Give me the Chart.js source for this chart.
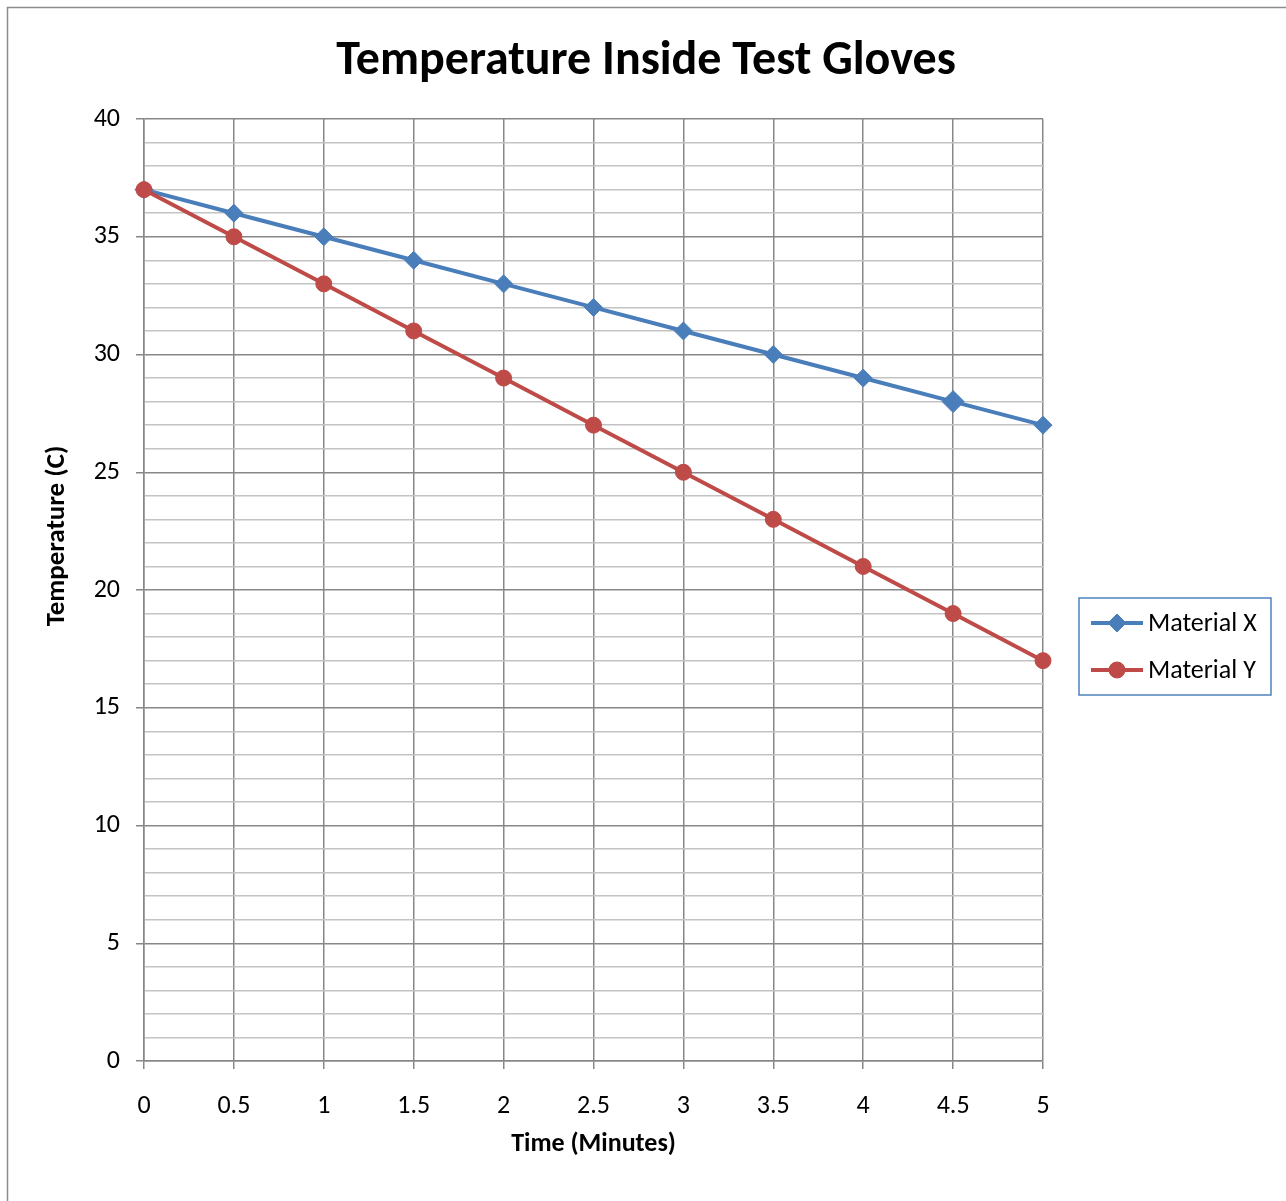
<!DOCTYPE html>
<html>
<head>
<meta charset="utf-8">
<title>Temperature Inside Test Gloves</title>
<script src="https://cdn.jsdelivr.net/npm/chart.js@4/dist/chart.umd.min.js"></script>
<style>
  html, body { margin: 0; padding: 0; background: #fff; }
  #wrap { width: 1286px; height: 1201px; }
</style>
</head>
<body>
<div id="wrap"><canvas id="chart" width="1286" height="1201"></canvas></div>
<script>
// DATA
// =============================================================================
const timeMinutes = [0, 0.5, 1, 1.5, 2, 2.5, 3, 3.5, 4, 4.5, 5];
const materialX = [37, 36, 35, 34, 33, 32, 31, 30, 29, 28, 27];
const materialY = [37, 35, 33, 31, 29, 27, 25, 23, 21, 19, 17];
const seriesNames = ['Material X', 'Material Y'];
const chartTitle = 'Temperature Inside Test Gloves';
const yAxisTitle = 'Temperature (C)';
const xAxisTitle = 'Time (Minutes)';
const yLabelEvery = 5;

// STYLE
// =============================================================================
const FONT = 'Carlito, Lato, "Open Sans", sans-serif';
const BLUE = '#4a7ebb';
const RED = '#be4b48';
const MAJOR_GRID = '#878787';
const MINOR_GRID = '#c3c3c3';

Chart.defaults.font.family = FONT;
Chart.defaults.color = '#000';

const toPoints = (values) => values.map((v, i) => ({ x: timeMinutes[i], y: v }));

/**
 * Grey frame round the whole chart, chart title and y axis title
 */
const frameAndTitles = {
  id: 'frameAndTitles',
  beforeDraw(chart) {
    const ctx = chart.ctx;
    ctx.save();
    ctx.strokeStyle = '#8c8c8c';
    ctx.lineWidth = 1.5;
    ctx.strokeRect(7.5, 7.5, chart.width + 20, chart.height + 20);
    ctx.restore();
  },
  afterDraw(chart) {
    const ctx = chart.ctx;
    ctx.save();
    ctx.fillStyle = '#000';
    ctx.textAlign = 'center';
    ctx.textBaseline = 'middle';
    ctx.font = 'bold 48px ' + FONT;
    ctx.fillText(chartTitle, 646, 62);
    ctx.translate(57, 536);
    ctx.rotate(-Math.PI / 2);
    ctx.font = 'bold 27px ' + FONT;
    ctx.fillText(yAxisTitle, 0, 0);
    ctx.restore();
  }
};

/**
 * Boxed legend on the right, drawn from the datasets
 */
const boxLegend = {
  id: 'boxLegend',
  afterDraw(chart) {
    const ctx = chart.ctx;
    const box = { x: 1079, y: 598, w: 192, h: 97 };
    ctx.save();
    ctx.strokeStyle = '#4f81bd';
    ctx.lineWidth = 1.5;
    ctx.strokeRect(box.x, box.y, box.w, box.h);
    chart.data.datasets.forEach((ds, i) => {
      const cy = box.y + 25 + i * 47;
      ctx.strokeStyle = ds.borderColor;
      ctx.lineWidth = 4;
      ctx.beginPath();
      ctx.moveTo(box.x + 12, cy);
      ctx.lineTo(box.x + 64, cy);
      ctx.stroke();
      ctx.fillStyle = ds.backgroundColor;
      ctx.lineWidth = 1;
      Chart.helpers.drawPoint(ctx, {
        pointStyle: ds.pointStyle,
        radius: i === 0 ? 9 : 8,
        borderWidth: 1
      }, box.x + 38, cy);
      ctx.fillStyle = '#000';
      ctx.font = '26px ' + FONT;
      ctx.textBaseline = 'middle';
      ctx.textAlign = 'left';
      ctx.fillText(ds.label, box.x + 69, cy + 1);
    });
    ctx.restore();
  }
};

const ctx = document.getElementById('chart').getContext('2d');

new Chart(ctx, {
  type: 'line',
  data: {
    datasets: [
      {
        label: seriesNames[0],
        data: toPoints(materialX),
        borderColor: BLUE,
        backgroundColor: BLUE,
        borderWidth: 4,
        pointStyle: 'rectRot',
        // the 4.5 marker is drawn a little larger in the original
        pointRadius: (c) => (c.dataIndex === 9 ? 11 : 9),
        pointBorderWidth: 1,
        tension: 0,
        clip: false,
        order: 2
      },
      {
        label: seriesNames[1],
        data: toPoints(materialY),
        borderColor: RED,
        backgroundColor: RED,
        borderWidth: 4,
        pointStyle: 'circle',
        pointRadius: 8,
        pointBorderWidth: 1,
        tension: 0,
        clip: false,
        order: 1
      }
    ]
  },
  options: {
    responsive: false,
    animation: false,
    layout: { padding: { top: 119, left: 0, right: 243, bottom: 0 } },
    plugins: {
      legend: { display: false },
      tooltip: { enabled: false },
      title: { display: false }
    },
    scales: {
      x: {
        type: 'linear',
        min: 0,
        max: 5,
        ticks: {
          stepSize: 0.5,
          autoSkip: false,
          maxRotation: 0,
          padding: 22,
          font: { size: 26 },
          callback: (v) => String(v)
        },
        grid: {
          color: MAJOR_GRID,
          lineWidth: 1.5,
          tickLength: 8,
          tickColor: MAJOR_GRID
        },
        border: { color: MAJOR_GRID, width: 1.5 },
        title: {
          display: true,
          text: xAxisTitle,
          font: { size: 26, weight: 'bold' },
          padding: { top: 0, bottom: 41 }
        },
        afterFit: (s) => { s.height = 140; }
      },
      y: {
        min: 0,
        max: 40,
        ticks: {
          stepSize: 1,
          autoSkip: false,
          padding: 16,
          font: { size: 26 },
          callback: (v) => (v % yLabelEvery === 0 ? String(v) : '')
        },
        grid: {
          color: (c) => (c.tick && c.tick.value % yLabelEvery === 0 ? MAJOR_GRID : MINOR_GRID),
          lineWidth: 1.5,
          tickLength: 8,
          tickColor: (c) => (c.tick && c.tick.value % yLabelEvery === 0 ? MAJOR_GRID : 'rgba(0,0,0,0)')
        },
        border: { color: MAJOR_GRID, width: 1.5 },
        afterFit: (s) => { s.width = 144; }
      }
    }
  },
  plugins: [frameAndTitles, boxLegend]
});
</script>
</body>
</html>
